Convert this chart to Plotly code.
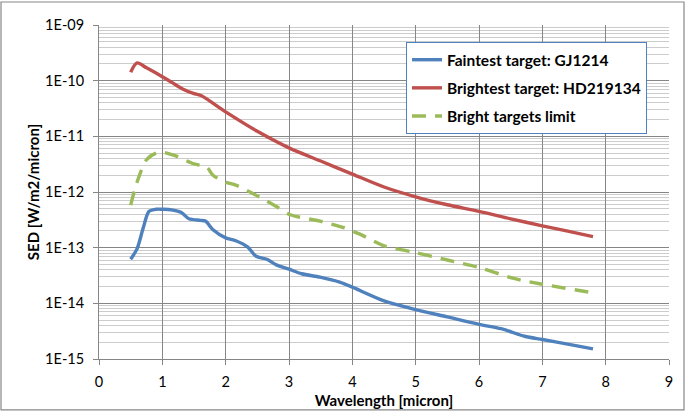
import plotly.graph_objects as go

# ---- data ----
blue_x = [0.5, 0.6, 0.7, 0.79, 0.9, 1.0, 1.1, 1.3, 1.42, 1.6, 1.68, 1.8, 2.0, 2.16, 2.35, 2.48, 2.65, 2.8, 3.0, 3.2, 3.49, 3.8, 4.0, 4.49, 4.97, 5.5, 6.0, 6.35, 6.72, 7.0, 7.4, 7.8]
blue_y = [6.2e-14, 9.5e-14, 2.3e-13, 4.5e-13, 4.9e-13, 4.9e-13, 4.85e-13, 4.3e-13, 3.3e-13, 3.1e-13, 3.0e-13, 2.1e-13, 1.5e-13, 1.33e-13, 1.02e-13, 7.0e-14, 6.2e-14, 4.9e-14, 4.1e-14, 3.4e-14, 2.95e-14, 2.4e-14, 1.95e-14, 1.12e-14, 7.9e-15, 5.7e-15, 4.2e-15, 3.5e-15, 2.56e-15, 2.24e-15, 1.85e-15, 1.52e-15]

red_x = [0.5, 0.6, 0.75, 1.0, 1.15, 1.32, 1.49, 1.61, 2.0, 2.5, 3.0, 3.5, 4.0, 4.5, 5.0, 5.5, 6.0, 6.5, 7.0, 7.4, 7.8]
red_y = [1.42e-10, 2.08e-10, 1.7e-10, 1.18e-10, 9.3e-11, 7.1e-11, 5.9e-11, 5.4e-11, 2.75e-11, 1.23e-11, 6.2e-12, 3.6e-12, 2.1e-12, 1.23e-12, 8.2e-13, 5.9e-13, 4.5e-13, 3.3e-13, 2.47e-13, 1.98e-13, 1.58e-13]

green_x = [0.5, 0.6, 0.75, 0.9, 1.0, 1.2, 1.5, 1.7, 1.8, 2.0, 2.16, 2.43, 2.8, 3.02, 3.49, 3.86, 4.12, 4.49, 4.97, 5.5, 6.0, 6.55, 7.0, 7.8]
green_y = [5.8e-13, 1.5e-12, 3.8e-12, 5.0e-12, 5.2e-12, 4.5e-12, 3.2e-12, 2.8e-12, 2.0e-12, 1.5e-12, 1.33e-12, 9.4e-13, 5.5e-13, 3.9e-13, 3.0e-13, 2.3e-13, 1.75e-13, 1.09e-13, 8.3e-14, 6.0e-14, 4.4e-14, 2.8e-14, 2.2e-14, 1.55e-14]

names = ["Faintest target: GJ1214", "Brightest target: HD219134", "Bright targets limit"]
colors = ["#4F81BD", "#C0504D", "#9BBB59"]

y_tickvals = [1e-15, 1e-14, 1e-13, 1e-12, 1e-11, 1e-10, 1e-9]
y_ticktext = ["1E-15", "1E-14", "1E-13", "1E-12", "1E-11", "1E-10", "1E-09"]
x_tickvals = list(range(0, 10))

FONT = "Lato"

fig = go.Figure()
fig.add_trace(go.Scatter(x=blue_x, y=blue_y, mode="lines", name=names[0], legendgroup="a",
                         line=dict(color=colors[0], width=3.4, shape="spline", smoothing=0.8)))
fig.add_trace(go.Scatter(x=red_x, y=red_y, mode="lines", name=names[1], legendgroup="b",
                         line=dict(color=colors[1], width=3.4, shape="spline", smoothing=0.8)))
fig.add_trace(go.Scatter(x=green_x, y=green_y, mode="lines", name=names[2], legendgroup="c",
                         line=dict(color=colors[2], width=3.4, dash="14px,9px", shape="spline", smoothing=0.8)))

L, R, T, B = 99, 16, 24.5, 53
W, H = 685, 419
pw, ph = W - L - R, H - T - B

fig.update_layout(
    width=W, height=H,
    margin=dict(l=L, r=R, t=T, b=B),
    paper_bgcolor="white", plot_bgcolor="white",
    font=dict(family=FONT, size=14, color="black"),
    showlegend=True,
    legend=dict(x=(406 - L) / pw, y=1 - (42 - T) / ph, xanchor="left", yanchor="top",
                bgcolor="white", bordercolor="#4F81BD", borderwidth=1,
                font=dict(family=FONT, size=15.5, color="black", weight="bold"),
                tracegroupgap=5),
    xaxis=dict(range=[0, 9], tickvals=x_tickvals, ticks="outside", ticklen=5,
               tickcolor="#868686", showline=True, linecolor="#868686", linewidth=1,
               showgrid=True, gridcolor="#868686", gridwidth=1, zeroline=False,
               tickfont=dict(family=FONT, size=14.5), ticklabelstandoff=5,
               title=dict(text="Wavelength [micron]", font=dict(family=FONT, size=15, weight="bold"), standoff=6)),
    yaxis=dict(type="log", range=[-15, -9], tickmode="array", tickvals=y_tickvals, ticktext=y_ticktext,
               ticks="outside", ticklen=5, tickcolor="#868686", showline=True, linecolor="#868686",
               linewidth=1, showgrid=True, gridcolor="#868686", gridwidth=1, zeroline=False,
               tickfont=dict(family=FONT, size=14.5), ticklabelstandoff=6,
               minor=dict(dtick="D1", showgrid=True, gridcolor="#CCCCCC", ticks=""),
               title=dict(text="SED [W/m2/micron]", font=dict(family=FONT, size=15, weight="bold"), standoff=1)),
)

# chart outer frame
fig.add_shape(type="rect", xref="paper", yref="paper",
              x0=(1 - L) / pw, x1=(W - 1 - L) / pw,
              y0=(H - B - (H - 1)) / ph, y1=(H - B - 1) / ph,
              line=dict(color="#888888", width=1.2), layer="above")

fig.write_html("out.html", config={"displayModeBar": False},
               post_script="document.body.style.margin='0';document.body.style.overflow='hidden';")
